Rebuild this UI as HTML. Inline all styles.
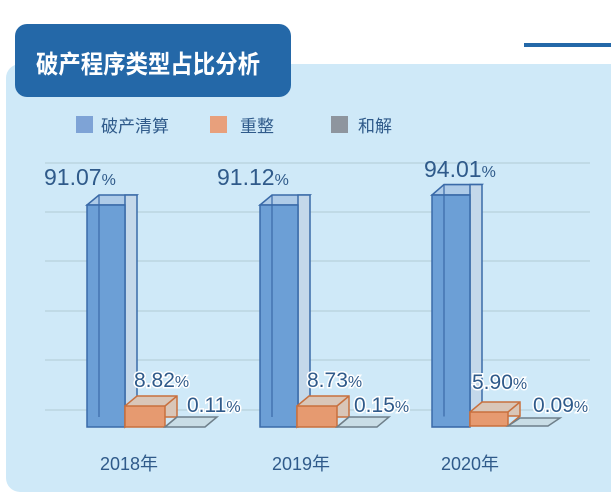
<!DOCTYPE html><html><head><meta charset="utf-8"><style>body{margin:0;width:611px;height:499px;background:#fff;overflow:hidden}</style></head><body>
<svg width="611" height="499" xmlns="http://www.w3.org/2000/svg" font-family="Liberation Sans, Noto Sans CJK SC, sans-serif">
<rect x="6" y="64" width="620" height="428" rx="14" fill="#cfe9f8"/>
<rect x="524" y="43" width="87" height="4" fill="#2468a8"/>
<rect x="15" y="24" width="276" height="73" rx="12" fill="#2468a8"/>
<text x="36" y="73" font-size="25" font-weight="bold" fill="#fff" font-family="Noto Sans CJK SC, sans-serif" textLength="224" lengthAdjust="spacingAndGlyphs">破产程序类型占比分析</text>
<g font-size="17" fill="#2f5a8a" font-family="Noto Sans CJK SC, sans-serif">
<rect x="76" y="116" width="17" height="17" fill="#7ea3d6"/><text x="101" y="132">破产清算</text>
<rect x="210" y="116" width="17" height="17" fill="#e8a07c"/><text x="240" y="132">重整</text>
<rect x="331" y="116" width="17" height="17" fill="#8e959e"/><text x="358" y="132">和解</text>
</g>
<g stroke="#bcd6df" stroke-width="1.5">
<line x1="45" y1="163" x2="590" y2="163"/><line x1="45" y1="212" x2="590" y2="212"/><line x1="45" y1="261" x2="590" y2="261"/><line x1="45" y1="311" x2="590" y2="311"/><line x1="45" y1="360" x2="590" y2="360"/><line x1="45" y1="410" x2="590" y2="410"/>
</g>
<defs>
<g id="grp">
<polygon points="0,0 12,-10 50,-10 38,0" fill="#aecbe8" stroke="#3a6aa8" stroke-width="1.5"/>
<rect x="38" y="-10" width="12" height="222" fill="#c4d8ea" stroke="#3a6aa8" stroke-width="1.5"/>
<rect x="0" y="0" width="38" height="222" fill="#6c9fd6" stroke="#3a6aa8" stroke-width="1.5"/>
<line x1="12" y1="-10" x2="12" y2="212" stroke="#3a6aa8" stroke-width="1.2"/>
</g>
</defs>
<g transform="translate(87,205)"><use href="#grp"/></g>
<g stroke="#c8703e" stroke-width="1.5"><polygon points="125,427 137,417 177,417 177,396 137,396 125,406" fill="#d9c6b8"/><rect x="125" y="406" width="40" height="21" fill="#e69a70"/><line x1="165" y1="406" x2="177" y2="396"/><line x1="165" y1="427" x2="177" y2="417"/></g>
<polygon points="165,427 177,417 217,417 205,427" fill="#c9dde6" stroke="#6e7f8a" stroke-width="1.5"/>
<g transform="translate(260,205)"><use href="#grp"/></g>
<g stroke="#c8703e" stroke-width="1.5"><polygon points="297,427 309,417 349,417 349,396 309,396 297,406" fill="#d9c6b8"/><rect x="297" y="406" width="40" height="21" fill="#e69a70"/><line x1="337" y1="406" x2="349" y2="396"/><line x1="337" y1="427" x2="349" y2="417"/></g>
<polygon points="337,427 349,417 389,417 377,427" fill="#c9dde6" stroke="#6e7f8a" stroke-width="1.5"/>
<g transform="translate(432,195) scale(1,1.045)"><use href="#grp"/></g>
<g stroke="#c8703e" stroke-width="1.5"><polygon points="470,426 482,416 520,416 520,402 482,402 470,412" fill="#d9c6b8"/><rect x="470" y="412" width="38" height="14" fill="#e69a70"/><line x1="508" y1="412" x2="520" y2="402"/><line x1="508" y1="426" x2="520" y2="416"/></g>
<polygon points="508,426 520,418 560,418 548,426" fill="#c9dde6" stroke="#6e7f8a" stroke-width="1.5"/>
<g fill="#2f5a8a" font-size="23">
<text x="44" y="185">91.07<tspan font-size="16">%</tspan></text>
<text x="217" y="185">91.12<tspan font-size="16">%</tspan></text>
<text x="424" y="177">94.01<tspan font-size="16">%</tspan></text>
<g font-size="21" stroke="#fff" stroke-width="3" paint-order="stroke">
<text x="134" y="387">8.82<tspan font-size="16">%</tspan></text>
<text x="187" y="412">0.11<tspan font-size="16">%</tspan></text>
<text x="307" y="387">8.73<tspan font-size="16">%</tspan></text>
<text x="354" y="412">0.15<tspan font-size="16">%</tspan></text>
<text x="472" y="389">5.90<tspan font-size="16">%</tspan></text>
<text x="533" y="412">0.09<tspan font-size="16">%</tspan></text>
</g>
<g font-size="18">
<text x="100" y="470">2018年</text><text x="272" y="470">2019年</text><text x="441" y="470">2020年</text>
</g>
</g>
</svg>
</body></html>
